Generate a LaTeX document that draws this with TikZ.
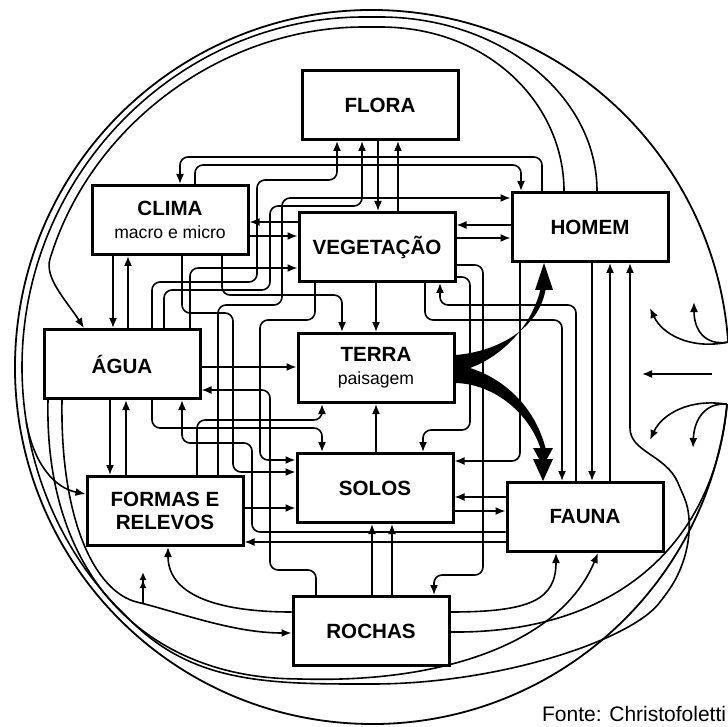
\documentclass[tikz,border=0pt]{standalone}
\usepackage{fontspec}
\setmainfont{Liberation Sans}
\usetikzlibrary{arrows.meta}

\begin{document}
\begin{tikzpicture}[x=0.5pt, y=-0.5pt,
  box/.style={draw, line width=1.5pt, fill=white, align=center, minimum width=78pt, minimum height=34.5pt, inner sep=1pt, font=\bfseries\fontsize{10.3}{11.5}\selectfont},
  link/.style={line width=0.8pt, rounded corners=4pt, -{Latex[length=5pt,width=4pt]}},
  wire/.style={line width=0.8pt, rounded corners=4pt},
  ring/.style={line width=0.9pt}]
\useasboundingbox (0,0) rectangle (728,727);

\node[box] (flora) at (380,105) {FLORA};
\node[box] (clima) at (170,220) {CLIMA\\{\mdseries\fontsize{8.8}{9.5}\selectfont macro e micro}};
\node[box] (veg) at (377,247) {VEGETAÇÃO};
\node[box] (homem) at (590,227) {HOMEM};
\node[box] (agua) at (122,364) {ÁGUA};
\node[box] (terra) at (376,368) {TERRA\\{\mdseries\fontsize{8.8}{9.5}\selectfont paisagem}};
\node[box] (solos) at (375,488) {SOLOS};
\node[box] (formas) at (165,511) {FORMAS E\\RELEVOS};
\node[box] (fauna) at (585,517) {FAUNA};
\node[box] (rochas) at (371,631) {ROCHAS};

% outer ring and the big loops
\draw[ring] (372,367) ++(6:357) coordinate (inlow) arc[start angle=6, end angle=356, radius=357] coordinate (inup);
\path (372,367) ++(171:350) coordinate (forkL);
\draw[link] (597,0 |- homem.north) .. controls (597,95) and (500,17) .. (372,17) arc[start angle=270, end angle=135, radius=350] .. controls (190,680) and (260,684) .. (364,684) .. controls (500,684) and (630,640) .. (664,597) .. controls (690,560) and (694,520) .. (681,490) .. controls (666,455) and (630,452) .. (630,420) -- (630,0 |- homem.south);
\draw[link] (564,0 |- homem.north) .. controls (564,105) and (490,27) .. (372,27) arc[start angle=270, end angle=200, radius=340] .. controls (44,278) and (66,300) .. (84,0 |- agua.north);
\draw[link] (forkL) .. controls (34,465) and (55,488) .. (formas.west |- 0,494);
\draw[link] (62,0 |- agua.south) .. controls (60,520) and (95,592) .. (145,604) .. controls (195,618) and (240,633) .. (rochas.west |- 0,633);
\draw[link] (48,0 |- agua.south) .. controls (44,580) and (150,676) .. (300,679) .. controls (450,682) and (562,640) .. (598,0 |- fauna.south);
\draw[line width=0.8pt, -{Latex[length=4pt,width=3.5pt]Latex[length=4pt,width=3.5pt]}] (143,603) -- (143,572);
\draw[link] (rochas.west |- 0,612) .. controls (225,612) and (168,598) .. (168,0 |- formas.south);
\draw[link] (rochas.east |- 0,612) .. controls (530,612) and (556,600) .. (556,0 |- fauna.south);
\draw[wire] (rochas.east |- 0,632) .. controls (620,634) and (715,540) .. (inlow);

% inputs from outside
\draw[link] (inup) .. controls (690,350) and (662,334) .. (650,308);
\draw[link] (inup) .. controls (705,346) and (694,330) .. (694,302);
\draw[link] (inlow) .. controls (690,398) and (662,414) .. (650,440);
\draw[link] (inlow) .. controls (705,402) and (694,420) .. (693,448);
\coordinate (inmid) at (712,374);
\draw[link] (inmid) -- ++(-70,0);

% top group
\draw[link] (378,0 |- flora.south) -- (378,0 |- veg.north);
\draw[link] (398,0 |- veg.north) -- (398,0 |- flora.south);
\draw[link] (152,0 |- agua.north) -- (152,282) -- (257,282) -- (257,180) -- (337,180) -- (337,0 |- flora.south);
\draw[link] (164,0 |- agua.north) -- (164,290) -- (270,290) -- (270,206) -- (362,206) -- (362,0 |- flora.south);
\draw[link] (218,0 |- formas.north) -- (218,305) -- (282,305) -- (282,198) -- (homem.west |- 0,198);
\draw[link] (542,0 |- homem.north) -- (542,157) -- (180,157) -- (180,0 |- clima.north);
\draw[link] (195,0 |- clima.north) -- (195,165) -- (521,165) -- (521,0 |- homem.north);
\draw[link] (homem.west |- 0,225) -- (veg.east |- 0,225);
\draw[link] (veg.east |- 0,238) -- (homem.west |- 0,238);
\draw[link] (veg.west |- 0,222) -- (clima.east |- 0,222);
\draw[link] (clima.east |- 0,236) -- (veg.west |- 0,236);
\draw[link] (190,0 |- agua.north) -- (190,268) -- (veg.west |- 0,268);

% left column
\draw[link] (113,0 |- clima.south) -- (113,0 |- agua.north);
\draw[link] (128,0 |- agua.north) -- (128,0 |- clima.south);
\draw[link] (110,0 |- agua.south) -- (110,0 |- formas.north);
\draw[link] (126,0 |- formas.north) -- (126,0 |- agua.south);

% middle
\draw[link] (376,0 |- veg.south) -- (376,0 |- terra.north);
\draw[link] (222,0 |- clima.south) -- (222,295) -- (342,295) -- (342,0 |- terra.north);
\draw[link] (182,0 |- clima.south) -- (182,313) -- (233,313) -- (233,472) -- (solos.west |- 0,472);
\draw[link] (315,0 |- veg.south) -- (315,320) -- (260,320) -- (260,460) -- (solos.west |- 0,460);
\draw[link] (agua.east |- 0,367) -- (terra.west |- 0,367);
\draw[link] (316,0 |- rochas.north) -- (316,570) -- (270,570) -- (270,390) -- (agua.east |- 0,390);
\draw[link] (197,0 |- formas.north) -- (197,420) -- (322,420) -- (322,0 |- terra.south);
\draw[link] (152,0 |- agua.south) -- (152,428) -- (322,428) -- (322,0 |- solos.north);
\draw[link] (376,0 |- solos.north) -- (376,0 |- terra.south);
\draw[link] (formas.east |- 0,508) -- (solos.west |- 0,508);
\draw[link] (fauna.west |- 0,532) -- (252,532) -- (252,443) -- (182,443) -- (182,0 |- agua.south);
\draw[link] (fauna.west |- 0,542) -- (formas.east |- 0,542);
\draw[link] (fauna.west |- 0,497) -- (solos.east |- 0,497);
\draw[link] (solos.east |- 0,511) -- (fauna.west |- 0,511);
\draw[link] (372,0 |- rochas.north) -- (372,0 |- solos.south);
\draw[link] (392,0 |- rochas.north) -- (392,0 |- solos.south);

% right column
\draw[link] (veg.east |- 0,265) -- (483,265) -- (483,575) -- (434,575) -- (434,0 |- rochas.north);
\draw[link] (veg.east |- 0,277) -- (470,277) -- (470,430) -- (423,430) -- (423,0 |- solos.north);
\draw[link] (576,0 |- fauna.north) -- (576,305) -- (440,305) -- (440,0 |- veg.south);
\draw[link] (425,0 |- veg.south) -- (425,320) -- (562,320) -- (562,0 |- fauna.north);
\draw[link] (520,0 |- homem.south) -- (520,461) -- (solos.east |- 0,461);
\draw[link] (592,0 |- homem.south) -- (592,0 |- fauna.north);
\draw[link] (610,0 |- fauna.north) -- (610,0 |- homem.south);

% the thick fork out of TERRA
\fill (terra.east |- 0,355) .. controls (495,352) and (540,330) .. (546,287) -- (541,287) .. controls (532,328) and (500,357) .. (470,368) .. controls (502,378) and (535,405) .. (546,450) -- (541,450) .. controls (530,414) and (495,384) .. (terra.east |- 0,383) -- cycle;
\fill (544,0 |- homem.south) -- (535,290) -- (553,290) -- cycle;
\fill (533,448) -- (553,448) -- (543,466) -- cycle;
\fill (533,459) -- (553,459) -- (543,0 |- fauna.north) -- cycle;

\node[anchor=base west, font=\fontsize{10.5}{12}\selectfont] (fonte) at (535,721) {Fonte: Christofoletti};
\end{tikzpicture}
\end{document}
